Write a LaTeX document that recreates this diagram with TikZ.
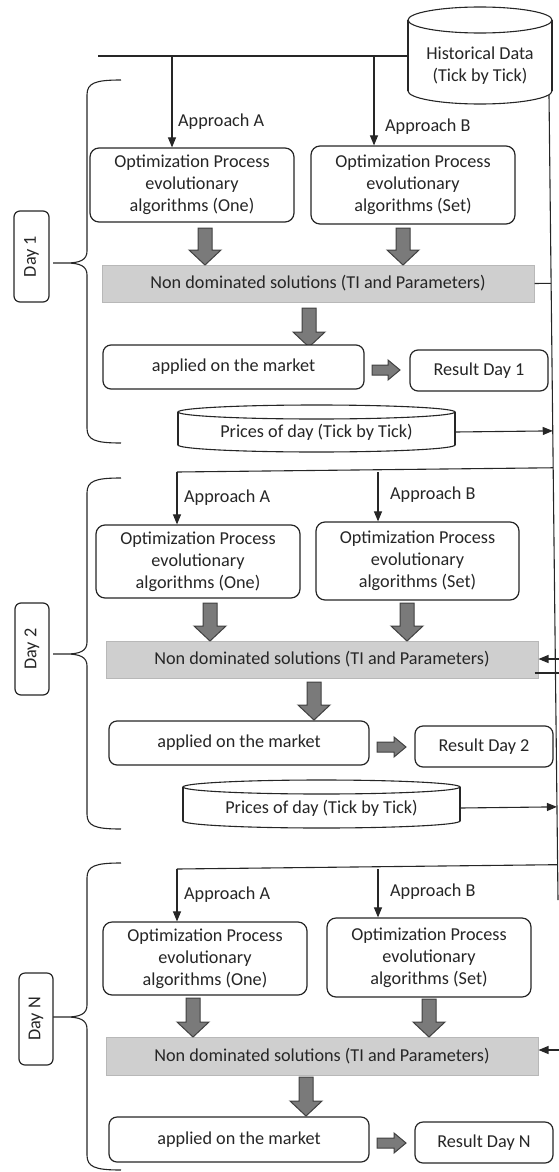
\documentclass[tikz,border=0pt]{standalone}
\usepackage{fontspec}
\setmainfont{Carlito}
\usetikzlibrary{arrows.meta,calc}
\newcommand\DayBrace[3]{%
  \draw[conn] (121,#1) .. controls (95,#1) and (87,#1+3) .. (87,#1+15) -- (87,#2-12)
    .. controls (87,#2-3) and (80,#2) .. (66,#2) -- (53,#2) -- (66,#2)
    .. controls (80,#2) and (87,#2+3) .. (87,#2+12) -- (87,#3-15)
    .. controls (87,#3-3) and (95,#3) .. (121,#3);}
\newcommand\BlkDown[3]{%
  \draw[blk] (#1-7,#2) -- (#1+7,#2) -- (#1+7,#3-15) -- (#1+16,#3-15) -- (#1,#3)
    -- (#1-16,#3-15) -- (#1-7,#3-15) -- cycle;}
\newcommand\BlkRight[3]{%
  \draw[blk] (#1,#3-5) -- (#2-12,#3-5) -- (#2-12,#3-10) -- (#2,#3) -- (#2-12,#3+10)
    -- (#2-12,#3+5) -- (#1,#3+5) -- cycle;}
% cx, rx, ytop, ybot, ry
\newcommand\Cyl[5]{%
  \draw[conn, fill=white] (#1,#4-#5) ellipse [x radius=#2pt, y radius=#5pt];
  \fill[white] (#1-#2,#3+#5) rectangle (#1+#2,#4-#5);
  \draw[conn] (#1-#2,#3+#5) -- (#1-#2,#4-#5);
  \draw[conn] (#1+#2,#3+#5) -- (#1+#2,#4-#5);
  \draw[conn, fill=white] (#1,#3+#5) ellipse [x radius=#2pt, y radius=#5pt];}
\begin{document}
\begin{tikzpicture}[x=1pt,y=-1pt,
  every node/.style={font=\fontsize{18.2}{22}\selectfont, text=black!85, inner sep=0pt, align=center},
  conn/.style={line width=1.1pt, draw=black!85},
  arr/.style={conn, -{Triangle[length=10pt,width=8pt]}},
  rbox/.style={draw=black!85, line width=1.2pt, rounded corners=9pt, fill=white},
  ndbox/.style={draw=black!28, fill=black!19, line width=1pt},
  daybox/.style={draw=black!85, line width=1.2pt, rounded corners=6pt, fill=white, rotate=90},
  blk/.style={draw=black!75, fill=black!52, line width=1pt},
]
\useasboundingbox (0,0) rectangle (559,1172);

% ---------- Historical data and right bus ----------
\Cyl{480}{72}{7}{104}{13}
\node[minimum width=144] (hist) at (480,65.5) {Historical Data\\(Tick by Tick)};
\coordinate (vtop) at (549,95);
\coordinate (vbot) at (558,900);
\draw[conn] (vtop) -- (vbot);
\coordinate (t0) at (98,56);
\coordinate (histL) at (408,56);
\draw[conn] (t0) -- (histL);

% ---------- Day 1 ----------
\DayBrace{80}{263}{443}
\node[daybox, minimum width=91, minimum height=35] (day1) at (31.5,256.5) {Day 1};
\node[rbox, minimum width=204, minimum height=74] (optA1) at (192,185)
  {Optimization Process\\evolutionary\\algorithms (One)};
\node[rbox, minimum width=204, minimum height=78] (optB1) at (413,185)
  {Optimization Process\\evolutionary\\algorithms (Set)};
\coordinate (tA1) at (172,56);
\coordinate (tB1) at (374,56);
\draw[arr] (tA1) -- (tA1 |- optA1.north);
\draw[arr] (tB1) -- (tB1 |- optB1.north);
\node[anchor=west] (lA1) at (178,122) {Approach A};
\node[anchor=west] (lB1) at (385,127) {Approach B};
\node[ndbox, minimum width=432, minimum height=37] (nd1) at (318,283.5)
  {Non dominated solutions (TI and Parameters)};
\BlkDown{205}{228}{265}
\BlkDown{403}{228}{265}
\BlkDown{309}{308}{347}
\node[rbox, rounded corners=8pt, minimum width=261, minimum height=44] (app1) at (233.5,367) {applied on the market};
\node[rbox, rounded corners=8pt, minimum width=138, minimum height=41] (res1) at (479,370.5) {Result Day 1};
\BlkRight{372}{400}{370}
\draw[conn] (nd1.east) -- ($(vtop)!(nd1.east)!(vbot)$);
\Cyl{316.5}{138.5}{405}{452}{7}
\node[minimum width=277] (pr1) at (316.5,432) {Prices of day (Tick by Tick)};
\draw[arr] (pr1.east) -- ($(vtop)!(pr1.east)!(vbot)$);

% ---------- Day 2 ----------
\DayBrace{478}{654}{829}
\node[daybox, minimum width=92, minimum height=34] (day2) at (32,649) {Day 2};
\node[rbox, minimum width=204, minimum height=73] (optA2) at (198,561.5)
  {Optimization Process\\evolutionary\\algorithms (One)};
\node[rbox, minimum width=203, minimum height=78] (optB2) at (417.5,561)
  {Optimization Process\\evolutionary\\algorithms (Set)};
\coordinate (tA2) at (177,472);
\coordinate (tB2) at (378,472);
\draw[conn] ($(vtop)!(tA2)!(vbot)$) -- (tA2);
\draw[arr] (tA2) -- (tA2 |- optA2.north);
\draw[arr] (tB2) -- (tB2 |- optB2.north);
\node[anchor=west] (lA2) at (184,498) {Approach A};
\node[anchor=west] (lB2) at (390,495) {Approach B};
\node[ndbox, minimum width=432, minimum height=37] (nd2) at (322,659.5)
  {Non dominated solutions (TI and Parameters)};
\BlkDown{210}{603}{641}
\BlkDown{407}{603}{641}
\BlkDown{314}{682}{720}
\node[rbox, rounded corners=8pt, minimum width=260, minimum height=44] (app2) at (239,743) {applied on the market};
\node[rbox, rounded corners=8pt, minimum width=138, minimum height=41] (res2) at (484,746.5) {Result Day 2};
\BlkRight{377}{406}{747}
\coordinate (in2) at (559,659);
\draw[arr] (in2) -- (in2 -| nd2.east);
\coordinate (out2) at (559,673);
\draw[conn] ([xshift=-4pt,yshift=-13.5pt]nd2.east) -- (out2);
\Cyl{321.5}{138.5}{780}{828}{7}
\node[minimum width=277] (pr2) at (321.5,808) {Prices of day (Tick by Tick)};
\draw[arr] (pr2.east) -- ($(vtop)!(pr2.east)!(vbot)$);

% ---------- Day N ----------
\DayBrace{863}{1017}{1170}
\node[daybox, minimum width=92, minimum height=34] (dayN) at (36,1019) {Day N};
\node[rbox, minimum width=204, minimum height=73] (optA3) at (205,958.5)
  {Optimization Process\\evolutionary\\algorithms (One)};
\node[rbox, minimum width=204, minimum height=79] (optB3) at (429,957.5)
  {Optimization Process\\evolutionary\\algorithms (Set)};
\coordinate (tA3) at (177,869);
\coordinate (tB3) at (378,869);
\draw[conn] ($(vtop)!(tA3)!(vbot)$) -- (tA3);
\draw[arr] (tA3) -- (tA3 |- optA3.north);
\draw[arr] (tB3) -- (tB3 |- optB3.north);
\node[anchor=west] (lA3) at (184,895) {Approach A};
\node[anchor=west] (lB3) at (390,892) {Approach B};
\node[ndbox, minimum width=432, minimum height=38] (ndN) at (322,1056)
  {Non dominated solutions (TI and Parameters)};
\BlkDown{193}{998}{1037}
\BlkDown{429}{999}{1037}
\BlkDown{306}{1077}{1116}
\node[rbox, rounded corners=8pt, minimum width=260, minimum height=45] (appN) at (239,1139.5) {applied on the market};
\node[rbox, rounded corners=8pt, minimum width=138, minimum height=41] (resN) at (484,1142.5) {Result Day N};
\BlkRight{377}{406}{1143}
\coordinate (inN) at (559,1050);
\draw[arr] (inN) -- (inN -| ndN.east);
\end{tikzpicture}
\end{document}
